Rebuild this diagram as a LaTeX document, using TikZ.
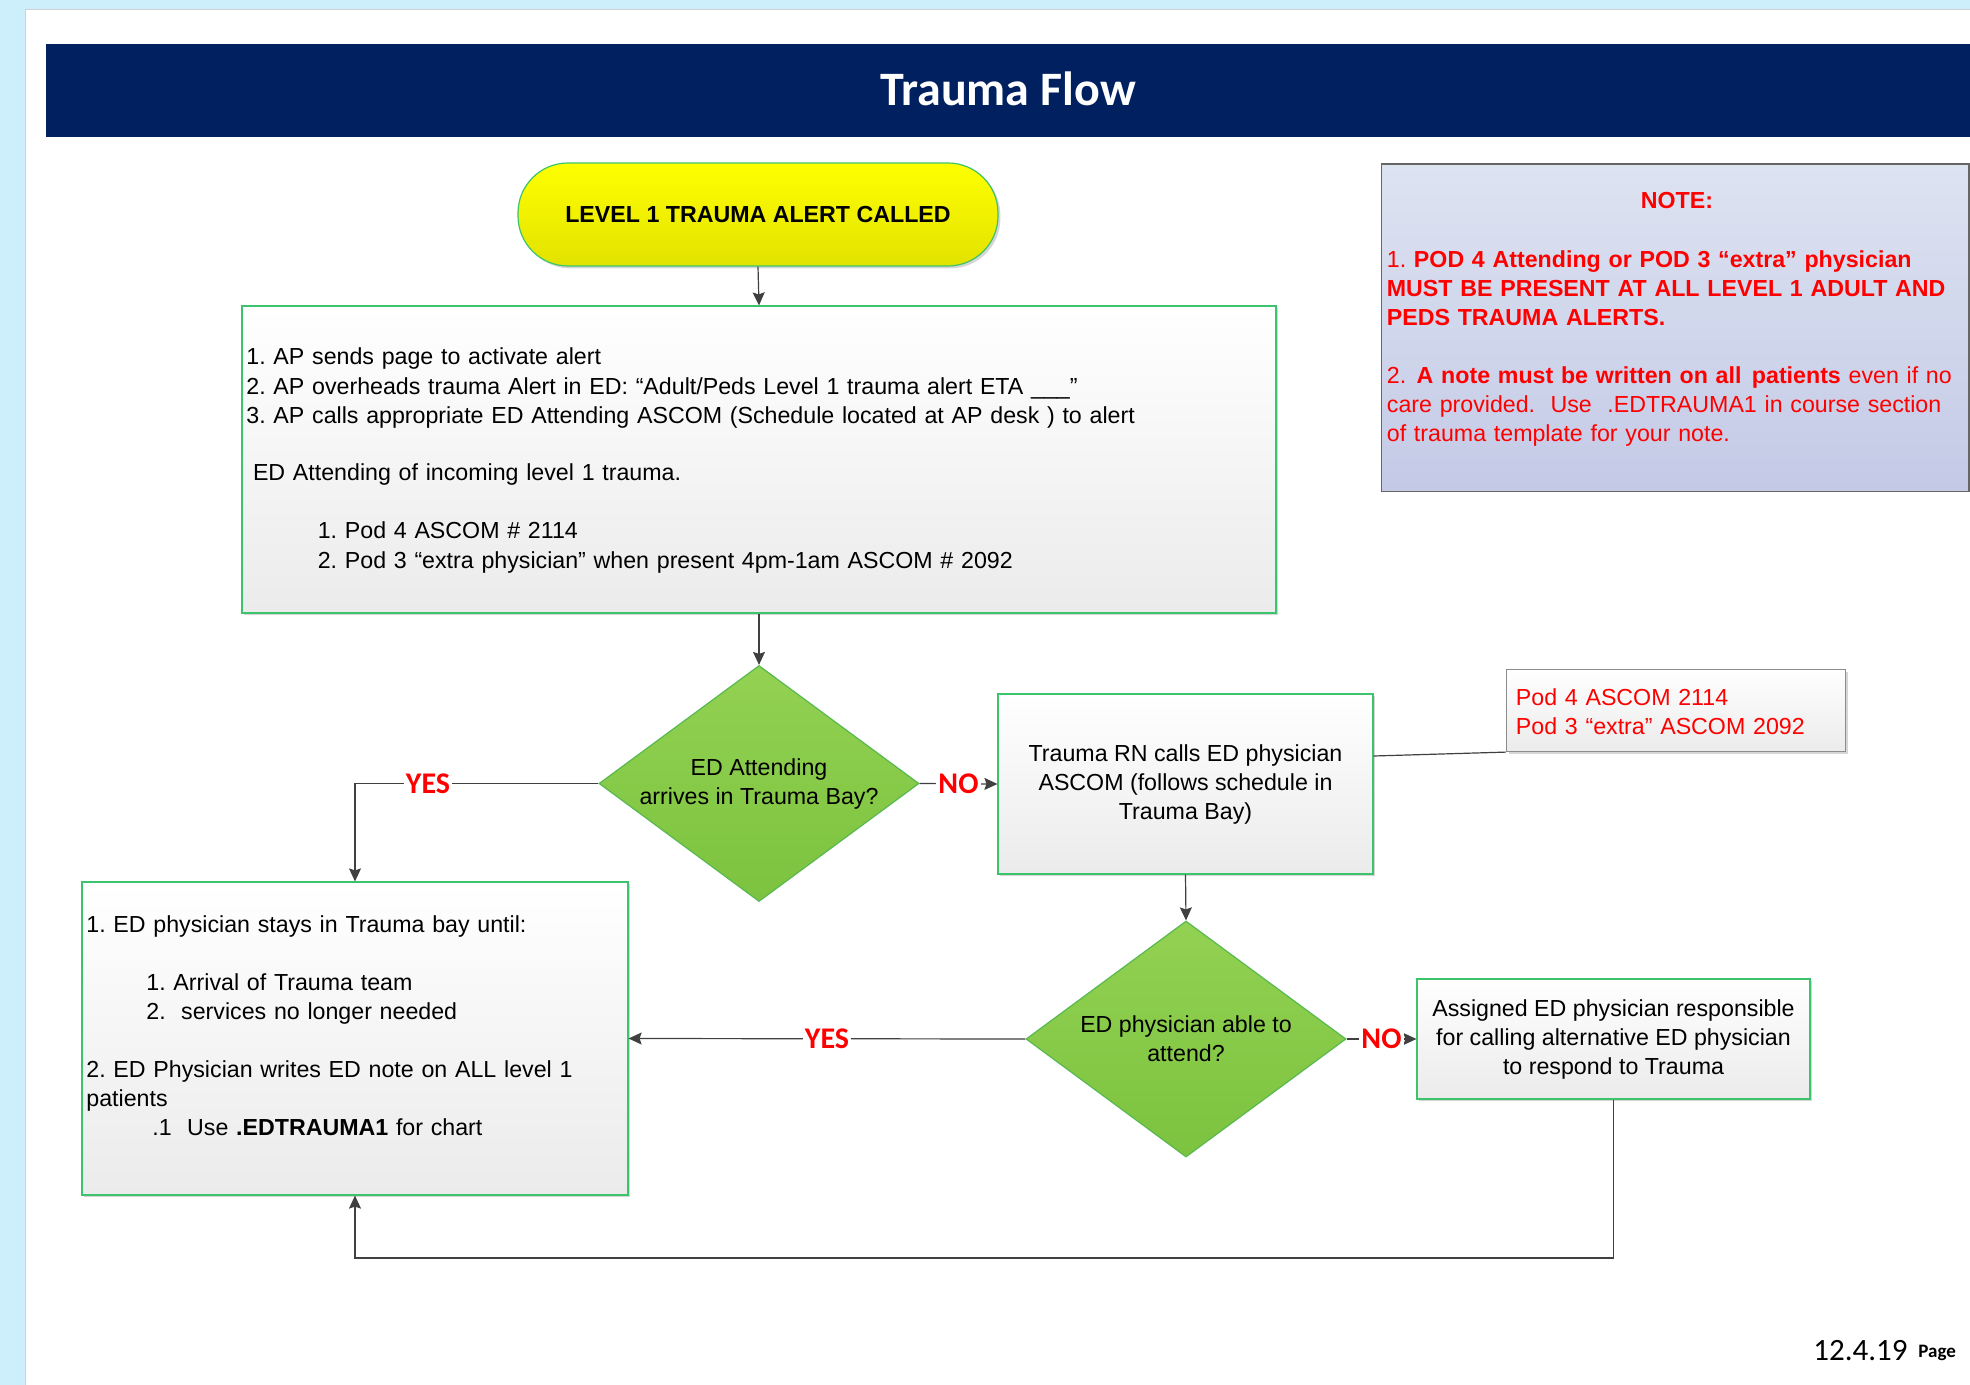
\documentclass[tikz,border=0pt]{standalone}
\usepackage{fontspec}
\setmainfont{Liberation Sans}
\newfontfamily\calibrifont{Carlito}
\usetikzlibrary{shapes.geometric,arrows.meta,shadows}

\definecolor{pagebg}{HTML}{CDEFFB}
\definecolor{bannernavy}{HTML}{002060}
\definecolor{boxgreen}{HTML}{3CC46C}
\definecolor{boxgrey}{HTML}{EBEBEB}
\definecolor{leaftop}{HTML}{93D152}
\definecolor{leafbot}{HTML}{7CC33F}
\definecolor{leafedge}{HTML}{57B94F}
\definecolor{termtop}{HTML}{FFFF00}
\definecolor{termbot}{HTML}{E2E200}
\definecolor{notetop}{HTML}{DDE3F1}
\definecolor{notebot}{HTML}{C4CAE6}
\definecolor{alertred}{HTML}{FF0000}
\definecolor{linegrey}{HTML}{404040}

\newcommand\bodyfont{\fontsize{11.6}{14.5}\selectfont\frenchspacing}

\tikzset{
  softshadow/.style={drop shadow={fill=black!16, opacity=1, shadow xshift=1.2pt, shadow yshift=-1.2pt}},
  terminal/.style={rectangle, rounded corners=25pt, draw=boxgreen, line width=0.6pt,
    top color=termtop, bottom color=termbot, inner sep=0pt, font=\bodyfont\bfseries, softshadow},
  procbox/.style={rectangle, draw=boxgreen, line width=0.6pt, top color=white, bottom color=boxgrey,
    inner sep=0pt, align=center, font=\bodyfont, softshadow},
  decision/.style={diamond, aspect=1.35, draw=leafedge, line width=0.6pt, top color=leaftop,
    bottom color=leafbot, inner sep=0pt, minimum width=160pt, minimum height=118pt,
    align=center, font=\bodyfont},
  calloutbox/.style={rectangle, draw=black!45, line width=0.6pt, top color=white, bottom color=boxgrey,
    inner sep=0pt, softshadow},
  notepanel/.style={rectangle, draw=black!60, line width=0.7pt, top color=notetop, bottom color=notebot,
    inner sep=0pt},
  boxtext/.style={anchor=base west, inner sep=0pt, text width=#1, align=left, font=\bodyfont},
  flowline/.style={draw=linegrey, line width=0.6pt, -{Stealth[length=6.5pt,width=6pt,inset=1pt]}},
  linkline/.style={draw=linegrey, line width=0.6pt},
  branchlabel/.style={fill=white, inner sep=1pt, text=alertred, font=\calibrifont\bfseries\fontsize{15}{17}\selectfont}
}

\begin{document}
\begin{tikzpicture}[x=0.5pt, y=-0.5pt] % one unit = one pixel, y downwards

\useasboundingbox (0,0) rectangle (1970,1385);
\def\blankgap{14.5pt} % one empty line

% page and banner
\fill[pagebg] (0,0) rectangle (1970,1385);
\filldraw[fill=white, draw=black!18] (25,9) rectangle (1980,1395);
\fill[bannernavy] (46,44) rectangle (1980,137);
\node[anchor=base, text=white, inner sep=0pt, font=\calibrifont\bfseries\fontsize{24}{28}\selectfont] (title) at (1008,106) {Trauma Flow};

% flow
\node[terminal, minimum width=240pt, minimum height=51.5pt] (alertcall) at (758,214.5) {LEVEL 1 TRAUMA ALERT CALLED};

\node[procbox, minimum width=517pt, minimum height=153.5pt] (pagebox) at (759,459.5) {};
\node[boxtext=510pt] (pagetext) at (246,365) {%
  1. AP sends page to activate alert\\
  2. AP overheads trauma Alert in ED: “Adult/Peds Level 1 trauma alert ETA \_\_\_”\\
  3. AP calls appropriate ED Attending ASCOM (Schedule located at AP desk ) to alert\\[\blankgap]
  \hspace*{3.3pt}ED Attending of incoming level 1 trauma.\\[\blankgap]
  \hspace*{35.7pt}1. Pod 4 ASCOM \# 2114\\
  \hspace*{35.7pt}2. Pod 3 “extra physician” when present 4pm-1am ASCOM \# 2092};

\node[decision] (arrives) at (759,783.5) {ED Attending\\arrives in Trauma Bay?};

\node[procbox, minimum width=187.5pt, minimum height=90pt] (rncalls) at (1185.5,784)
  {Trauma RN calls ED physician\\ASCOM (follows schedule in\\Trauma Bay)};

\node[calloutbox, minimum width=169.5pt, minimum height=41pt] (podcall) at (1676,710.5) {};
\node[boxtext=165pt, text=alertred] (podtext) at (1515.5,705) {%
  Pod 4 ASCOM 2114\\
  Pod 3 “extra” ASCOM 2092};

\node[decision] (able) at (1186,1039) {ED physician able to\\attend?};

\node[procbox, minimum width=196.5pt, minimum height=60pt] (assign) at (1613.5,1039)
  {Assigned ED physician responsible\\for calling alternative ED physician\\to respond to Trauma};

\node[procbox, minimum width=273pt, minimum height=156.5pt] (stay) at (355,1038.5) {};
\node[boxtext=267pt] (staytext) at (86,932) {%
  1. ED physician stays in Trauma bay until:\\[\blankgap]
  \hspace*{30pt}1. Arrival of Trauma team\\
  \hspace*{30pt}2.\ \ services no longer needed\\[\blankgap]
  2. ED Physician writes ED note on ALL level 1\\
  patients\\
  \hspace*{33pt}.1\ \ Use \textbf{.EDTRAUMA1} for chart};

% note panel
\node[notepanel, minimum width=293.75pt, minimum height=163.75pt] (note) at (1675.25,327.75) {};
\node[anchor=base, inner sep=0pt, text=alertred, font=\bodyfont\bfseries] (notehead) at (1677,209) {NOTE:};
\node[boxtext=300pt, text=alertred] (notetext) at (1386.5,268) {%
  1. \textbf{POD 4 Attending or POD 3 “extra” physician}\\
  \textbf{MUST BE PRESENT AT ALL LEVEL 1 ADULT AND}\\
  \textbf{PEDS TRAUMA ALERTS.}\\[\blankgap]
  2.\hspace{0.45em}\textbf{A note must be written on all\hspace{0.45em}patients} even if no\\
  care provided.\ \ Use\ \ .EDTRAUMA1 in course section\\
  of trauma template for your note.};

% connectors
\draw[flowline] (alertcall.south) -- (pagebox.north);
\draw[flowline] (pagebox.south) -- (arrives.north);
\draw[flowline] (arrives.west) -| node[branchlabel, pos=0.35] {YES} (stay.north);
\draw[flowline] (arrives.east) -- node[branchlabel] {NO} (rncalls.west);
\draw[linkline] ([yshift=14pt]rncalls.east) -- (podcall.south west);
\draw[flowline] (rncalls.south) -- (able.north);
\draw[flowline] (able.west) -- node[branchlabel] {YES} (stay.east);
\draw[flowline] (able.east) -- node[branchlabel] {NO} (assign.west);
\coordinate (loopturn) at (1613.5,1258);
\draw[flowline] (assign.south) -- (loopturn) -| (stay.south);

% footer
\node[anchor=base west, inner sep=0pt, font=\calibrifont\fontsize{15.5}{18}\selectfont] (date) at (1813,1360) {12.4.19};
\node[anchor=base west, inner sep=0pt, font=\calibrifont\bfseries\fontsize{9.5}{11}\selectfont] (pagelbl) at (1918,1357) {Page};

\end{tikzpicture}
\end{document}
